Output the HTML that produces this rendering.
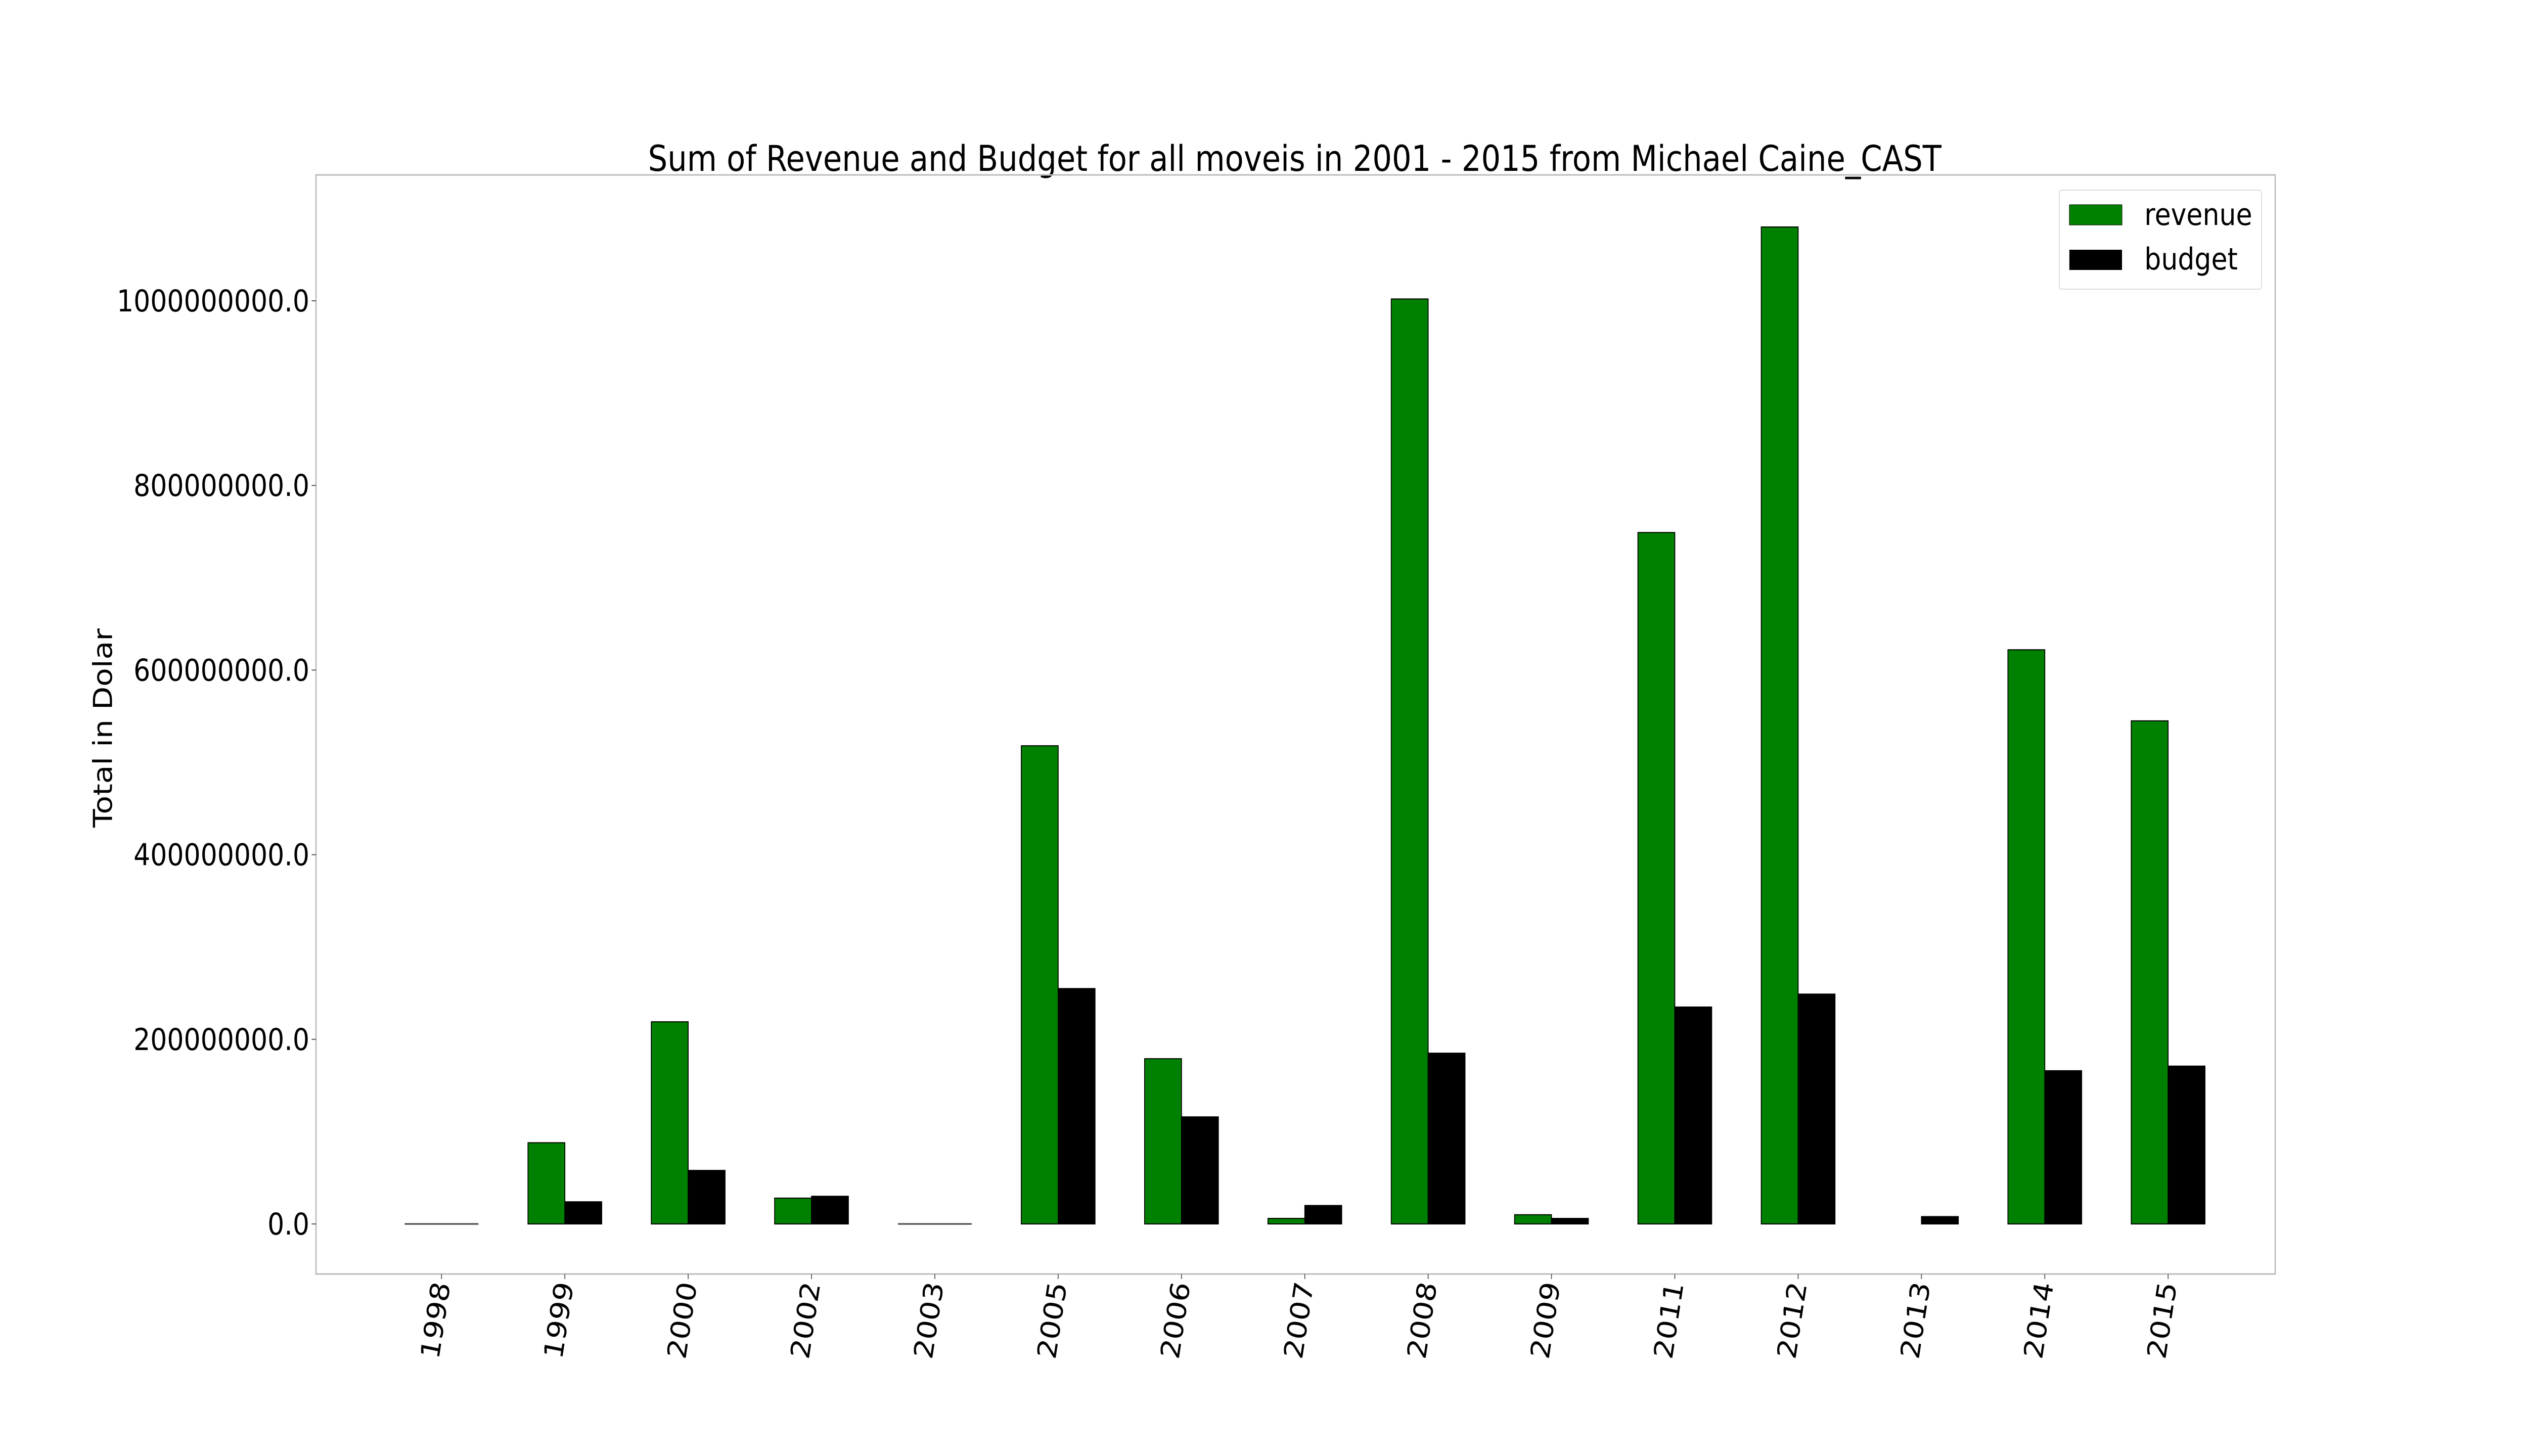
<!DOCTYPE html>
<html><head><meta charset="utf-8"><style>
html,body{margin:0;padding:0;background:#fff;width:100%;height:100%;overflow:hidden;}
svg{display:block;position:fixed;left:0;top:0;width:100vw;height:100vh;font-family:"DejaVu Sans","Liberation Sans",sans-serif;}
</style></head><body>
<svg id="chart" viewBox="0 0 5760 2880" preserveAspectRatio="none" xmlns="http://www.w3.org/2000/svg">
<rect x="0" y="0" width="5760" height="2880" fill="#fff"/>
<text x="2950" y="338" font-size="70" text-anchor="middle" fill="#000">Sum of Revenue and Budget for all moveis in 2001 - 2015 from  Michael Caine_CAST</text>
<text transform="translate(255,1440) rotate(-90)" font-size="60" text-anchor="middle" fill="#000">Total in Dolar</text>
<g id="bars"></g>
<rect x="720" y="346" width="4464" height="2174" fill="none" stroke="#bbbbbb" stroke-width="3"/>
<g id="axes"></g>
<g>
<rect x="4692" y="376" width="461" height="196" rx="6" fill="#fff" stroke="#dddddd" stroke-width="2"/>
<rect x="4715" y="405" width="120" height="40" fill="#008000" stroke="#000" stroke-width="1"/>
<text x="4886" y="445" font-size="60" fill="#000">revenue</text>
<rect x="4715" y="494" width="120" height="40" fill="#000"/>
<text x="4886" y="533" font-size="60" fill="#000">budget</text>
</g>
</svg>
<script>
const categories = ["1998","1999","2000","2002","2003","2005","2006","2007","2008","2009","2011","2012","2013","2014","2015"];
const revenue = [0, 88000000, 219000000, 28000000, 0, 518000000, 179000000, 6000000, 1002000000, 10000000, 749000000, 1080000000, 0, 622000000, 545000000];
const budget = [0, 24000000, 58000000, 30000000, 0, 255000000, 116000000, 20000000, 185000000, 6000000, 235000000, 249000000, 8000000, 166000000, 171000000];
const yTicks = [0, 200000000, 400000000, 600000000, 800000000, 1000000000];
const yTickLabels = ["0.0","200000000.0","400000000.0","600000000.0","800000000.0","1000000000.0"];

const NS = "http://www.w3.org/2000/svg";
const zeroY = 2421, pxPerUnit = 1826 / 1e9;
function yScale(v){ return zeroY - v * pxPerUnit; }
const firstX = 1006, step = 281, barW = 84;
function xScale(i){ return firstX + i * step; }
function mk(tag, attrs, parent){
  const el = document.createElementNS(NS, tag);
  for (const k in attrs) el.setAttribute(k, attrs[k]);
  parent.appendChild(el);
  return el;
}
const bars = document.getElementById('bars');
const axes = document.getElementById('axes');
categories.forEach((c, i) => {
  const x = xScale(i);
  const r = mk('rect', {x: x - barW, y: yScale(revenue[i]), width: barW, height: Math.max(0, zeroY - yScale(revenue[i])), fill: '#008000', stroke: '#000', 'stroke-width': 2}, bars);
  
  
  const b = mk('rect', {x: x, y: yScale(budget[i]), width: barW, height: Math.max(0, zeroY - yScale(budget[i])), fill: '#000', stroke: '#000', 'stroke-width': 2}, bars);
  
  
  if (revenue[i] === 0 && budget[i] === 0) {
    const z = mk('line', {x1: x - barW, x2: x + barW, y1: zeroY, y2: zeroY, stroke: '#444', 'stroke-width': 3}, bars);
    
    
  }
  const t = mk('line', {x1: x, x2: x, y1: 2520, y2: 2530, stroke: '#555', 'stroke-width': 2}, axes);
  
  
  const l = mk('text', {transform: 'translate(' + (x + 20) + ',2540) rotate(-80)', 'font-size': 60, 'text-anchor': 'end', fill: '#000'}, axes);
  l.textContent = c;
  
  
});
yTicks.forEach((v, i) => {
  const y = yScale(v);
  const t = mk('line', {x1: 710, x2: 720, y1: y, y2: y, stroke: '#555', 'stroke-width': 2}, axes);
  
  
  const l = mk('text', {x: 705, y: y + 21, 'font-size': 60, 'text-anchor': 'end', fill: '#000'}, axes);
  l.textContent = yTickLabels[i];
  
  
});
</script>
</body></html>
